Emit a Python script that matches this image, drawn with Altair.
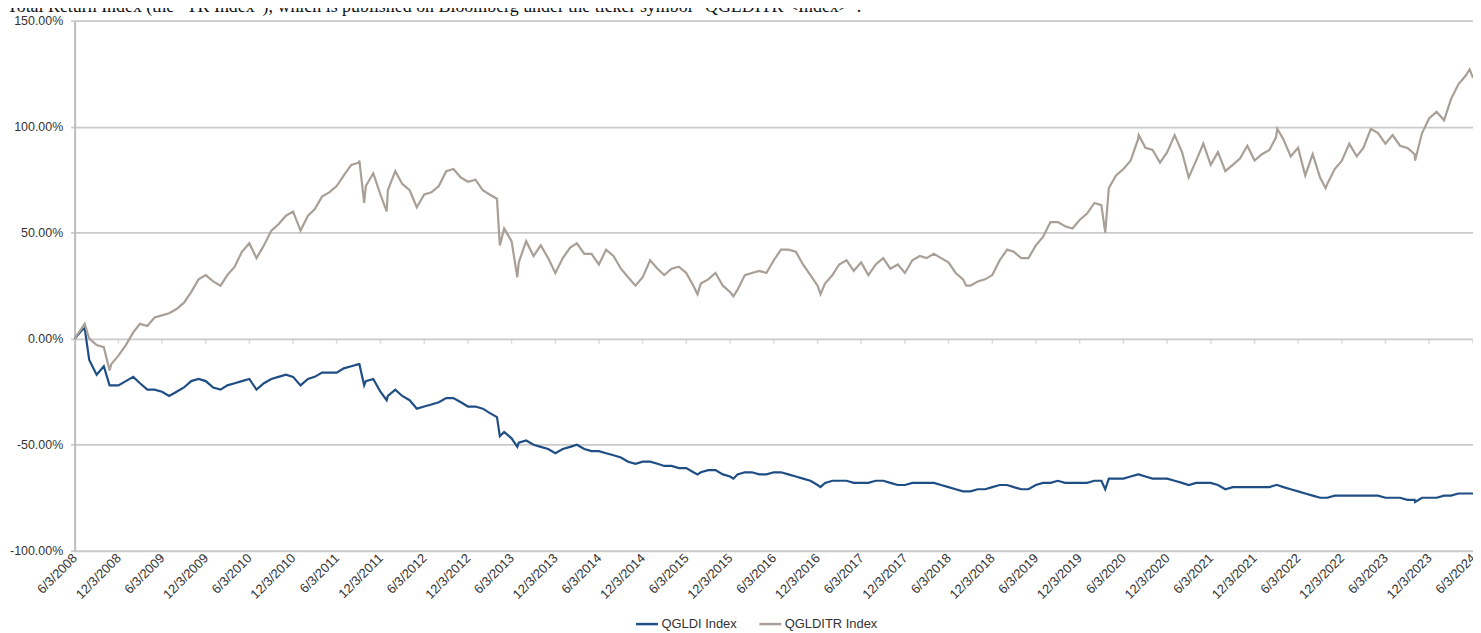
import altair as alt
import pandas as pd

# ---------------- data ----------------
# monthly readings (value on the 3rd of each month, Jun 2008 .. Jun 2024), in %
qgldi_2008 = [0, 4, -10, -17, -13, -22, -22]
qgldi_2009 = [-20, -18, -21, -24, -24, -25, -27, -25, -23, -20, -19, -20]
qgldi_2010 = [-23, -24, -22, -21, -20, -19, -24, -21, -19, -18, -17, -18]
qgldi_2011 = [-22, -19, -18, -16, -16, -16, -14, -13, -12, -20, -19, -25]
qgldi_2012 = [-27, -24, -27, -29, -33, -32, -31, -30, -28, -28, -30, -32]
qgldi_2013 = [-32, -33, -35, -37, -44, -47, -49, -48, -50, -51, -52, -54]
qgldi_2014 = [-52, -51, -50, -52, -53, -53, -54, -55, -56, -58, -59, -58]
qgldi_2015 = [-58, -59, -60, -60, -61, -61, -63, -63, -62, -62, -64, -65]
qgldi_2016 = [-64, -63, -63, -64, -64, -63, -63, -64, -65, -66, -67, -69]
qgldi_2017 = [-68, -67, -67, -67, -68, -68, -68, -67, -67, -68, -69, -69]
qgldi_2018 = [-68, -68, -68, -68, -69, -70, -71, -72, -72, -71, -71, -70]
qgldi_2019 = [-69, -69, -70, -71, -71, -69, -68, -68, -67, -68, -68, -68]
qgldi_2020 = [-68, -67, -67, -66, -66, -66, -65, -64, -65, -66, -66, -66]
qgldi_2021 = [-67, -68, -69, -68, -68, -68, -69, -71, -70, -70, -70, -70]
qgldi_2022 = [-70, -70, -69, -70, -71, -72, -73, -74, -75, -75, -74, -74]
qgldi_2023 = [-74, -74, -74, -74, -74, -75, -75, -75, -76, -76, -75, -75]
qgldi_2024 = [-75, -74, -74, -73, -73, -73]

qglditr_2008 = [0, 5, 0, -3, -4, -12, -8]
qglditr_2009 = [-3, 3, 7, 6, 10, 11, 12, 14, 17, 22, 28, 30]
qglditr_2010 = [27, 25, 30, 34, 41, 45, 38, 44, 51, 54, 58, 60]
qglditr_2011 = [51, 58, 61, 67, 69, 72, 77, 82, 83, 72, 78, 68]
qglditr_2012 = [70, 79, 73, 70, 62, 68, 69, 72, 79, 80, 76, 74]
qglditr_2013 = [75, 70, 68, 66, 52, 46, 36, 46, 39, 44, 38, 31]
qglditr_2014 = [38, 43, 45, 40, 40, 35, 42, 39, 33, 29, 25, 29]
qglditr_2015 = [37, 33, 30, 33, 34, 31, 25, 26, 28, 31, 25, 22]
qglditr_2016 = [23, 30, 31, 32, 31, 37, 42, 42, 41, 35, 30, 25]
qglditr_2017 = [26, 30, 35, 37, 32, 36, 30, 35, 38, 33, 35, 31]
qglditr_2018 = [37, 39, 38, 40, 38, 36, 31, 28, 25, 27, 28, 30]
qglditr_2019 = [37, 42, 41, 38, 38, 44, 48, 55, 55, 53, 52, 56]
qglditr_2020 = [59, 64, 63, 71, 77, 80, 84, 94, 90, 89, 83, 88]
qglditr_2021 = [96, 88, 76, 84, 92, 82, 88, 79, 82, 85, 91, 84]
qglditr_2022 = [87, 89, 95, 94, 86, 90, 77, 87, 76, 73, 80, 84]
qglditr_2023 = [92, 86, 90, 99, 97, 92, 96, 91, 90, 87, 97, 104]
qglditr_2024 = [107, 103, 113, 120, 124, 123]

# extra readings at sharp spikes: date, QGLDI, QGLDITR
spike_dates = ["2008-07-15", "2008-10-27", "2011-09-06", "2011-09-26", "2011-12-29",
               "2013-04-15", "2013-06-27", "2015-07-20", "2015-12-17", "2016-12-15",
               "2018-08-16", "2020-03-19", "2020-08-06", "2022-03-08", "2022-09-26",
               "2023-10-05", "2024-05-20"]
spike_qgldi = [5, -22, -12, -22, -29, -46, -51, -64, -66, -70, -72, -71, -64, -69, -75, -77, -73]
spike_qglditr = [7, -15, 84, 64, 60, 44, 29, 21, 20, 21, 25, 50, 96, 99, 71, 84, 127]

series_names = ["QGLDI Index", "QGLDITR Index"]
series_colors = ["#1f4e85", "#a89f97"]

y_ticks = [-100, -50, 0, 50, 100, 150]
x_tick_labels = [f"{m}/3/{y}" for y in range(2008, 2025) for m in (6, 12)][:-1]

title_text = ("Total Return Index (the \u201cTR Index\u201d), which is published on Bloomberg "
              "under the ticker symbol \u201cQGLDITR <Index>\u201d.")

# ---------------- build tables ----------------
qgldi = (qgldi_2008 + qgldi_2009 + qgldi_2010 + qgldi_2011 + qgldi_2012 + qgldi_2013
         + qgldi_2014 + qgldi_2015 + qgldi_2016 + qgldi_2017 + qgldi_2018 + qgldi_2019
         + qgldi_2020 + qgldi_2021 + qgldi_2022 + qgldi_2023 + qgldi_2024)
qglditr = (qglditr_2008 + qglditr_2009 + qglditr_2010 + qglditr_2011 + qglditr_2012
           + qglditr_2013 + qglditr_2014 + qglditr_2015 + qglditr_2016 + qglditr_2017
           + qglditr_2018 + qglditr_2019 + qglditr_2020 + qglditr_2021 + qglditr_2022
           + qglditr_2023 + qglditr_2024)
month_dates = pd.date_range("2008-06-03", periods=len(qgldi), freq=pd.DateOffset(months=1))

wide = pd.DataFrame({
    "date": list(month_dates.strftime("%Y-%m-%d")) + spike_dates,
    series_names[0]: qgldi + spike_qgldi,
    series_names[1]: qglditr + spike_qglditr,
}).sort_values("date")
long = wide.melt(id_vars="date", var_name="series", value_name="value")


def to_dt(lbl):
    m, d, y = (int(p) for p in lbl.split("/"))
    return alt.DateTime(year=y, month=m, date=d, utc=True)


x_values = [to_dt(l) for l in x_tick_labels]
x_domain = [to_dt(x_tick_labels[0]), to_dt(x_tick_labels[-1])]
tick_df = pd.DataFrame({"date": [
    f"{int(l.split('/')[2]):04d}-{int(l.split('/')[0]):02d}-{int(l.split('/')[1]):02d}"
    for l in x_tick_labels]})

FONT = "Liberation Sans"
TXT = "#333333"
GRID = "#cacaca"

x_enc = alt.X("date:T",
              scale=alt.Scale(type="utc", domain=x_domain),
              axis=alt.Axis(values=x_values, labelExpr="utcFormat(datum.value, '%-m/%-d/%Y')",
                            labelAngle=-45, labelAlign="right", labelBaseline="middle",
                            labelFont=FONT, labelFontSize=13, labelColor=TXT,
                            labelPadding=5, ticks=False, domain=False, grid=False,
                            title=None, labelOverlap=False, labelFlush=False))
y_enc = alt.Y("value:Q",
              scale=alt.Scale(domain=[-100, 150], nice=False, zero=False),
              axis=alt.Axis(values=y_ticks,
                            labelExpr="(datum.value < 0 ? '-' : '') + format(abs(datum.value), '.2f') + '%'",
                            labelFont=FONT, labelFontSize=12.5, labelColor=TXT, labelPadding=8,
                            grid=True, gridColor=GRID, gridWidth=1.8,
                            domain=True, domainColor="#bdbdbd", domainWidth=2,
                            ticks=True, tickColor=GRID, tickSize=4, tickWidth=1.8,
                            title=None))

lines = alt.Chart(long).mark_line(strokeWidth=2.2, interpolate="linear").encode(
    x=x_enc,
    y=y_enc,
    color=alt.Color("series:N",
                    scale=alt.Scale(domain=series_names, range=series_colors),
                    legend=alt.Legend(title=None, orient="none", direction="horizontal",
                                      legendX=563, legendY=594,
                                      symbolType="stroke", symbolStrokeWidth=2.5,
                                      symbolSize=484, labelFont=FONT, labelFontSize=13,
                                      labelColor=TXT, columnPadding=17, labelOffset=2)),
    order=alt.Order("date:T"),
)

zero_ticks = alt.Chart(tick_df).mark_tick(orient="vertical", size=5, thickness=1.5,
                                          color=GRID, yOffset=2.5).encode(
    x=alt.X("date:T"),
    y=alt.datum(0),
)

header = alt.Chart(pd.DataFrame({"t": [title_text]})).mark_text(
    align="left", baseline="alphabetic", font="Liberation Serif", fontSize=18,
    color="#111111").encode(
    text="t:N", x=alt.value(-68), y=alt.value(-9))

chart = alt.layer(zero_ticks, lines, header).properties(
    width=1406, height=533,
    autosize=alt.AutoSizeParams(type="none"),
    padding={"left": 67, "top": 11, "right": 0, "bottom": 80},
).configure_view(stroke=None).configure(background="white")

chart.save("out.html", embed_options={"renderer": "svg", "actions": False})
